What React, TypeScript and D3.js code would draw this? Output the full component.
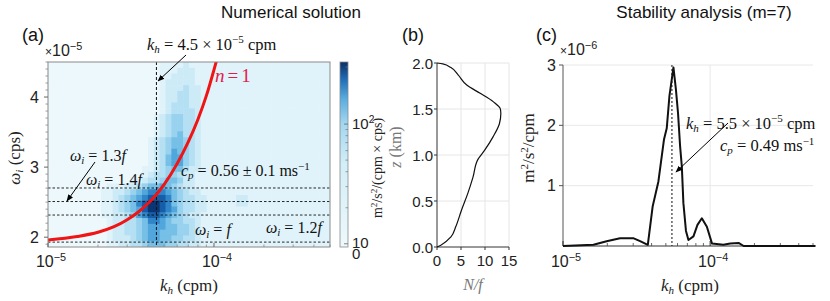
import React from 'react'
import * as d3 from 'd3'

const SANS = '"Liberation Sans", Arial, Helvetica, sans-serif'
const SERIF = '"Liberation Serif", "Times New Roman", serif'

// (a) spectrum levels, rows from top (omega = 4.5e-5) to bottom, 48 log-spaced columns 1e-5..5e-4 cpm
const heatRows = [
  '000000 000000 000000 011112 111111 111111 111111 111111',
  '000000 000000 000000 011122 211111 111111 111111 111111',
  '000000 000000 000000 011222 211111 111111 111111 111111',
  '000000 000000 000000 012222 211111 111111 111111 111111',
  '000000 000000 000000 012223 221111 111111 111111 111111',
  '000000 000000 000000 012233 221111 111111 111111 111111',
  '000000 000000 000000 012233 221111 111111 111111 111111',
  '000000 000000 000000 012333 221111 111111 111111 111111',
  '000000 000000 000000 012333 321111 111111 111111 111111',
  '000000 000000 000000 123443 321111 111111 111111 111111',
  '000000 000000 000000 123443 321111 111111 111111 111111',
  '000000 000000 000000 123443 321111 111111 111111 111111',
  '000000 000000 000000 123453 321111 111111 111111 111111',
  '000000 000000 000001 234554 321111 111111 111111 111111',
  '000000 000000 000001 234554 321111 111111 111111 111111',
  '000000 000000 000001 234654 321111 111111 111111 111111',
  '000000 000000 000001 235664 321111 111111 111111 111111',
  '000000 000000 000001 235664 321111 111111 111111 111111',
  '000000 000000 000011 234553 221111 111111 111111 111111',
  '000000 000000 000012 334432 211111 111111 111111 111111',
  '000000 000000 001123 345542 211111 111111 111111 111111',
  '000000 000011 122345 565432 211111 111111 111111 111111',
  '000000 000112 234567 776543 221111 111111 111111 111111',
  '000000 000112 345678 887543 322111 112211 111111 111111',
  '000000 000112 345789 987543 322111 112211 111111 111111',
  '000000 000112 345689 987643 322111 111111 111111 111111',
  '000000 000112 234678 876543 221111 111111 111111 111111',
  '000000 000012 233457 765443 321111 111111 111111 111111',
  '000000 000012 233456 665544 321111 111111 111111 111111',
  '000000 000012 233456 655544 321111 111111 111111 111111',
  '000000 000012 223456 655443 321111 111111 111111 111111',
  '000000 000011 223345 554433 221111 111111 111111 111111',
]
const heatColors = ['#edf8fc', '#e0f3fa', '#cdebf7', '#b5e0f3', '#98d2ee', '#76bfe7', '#51a6dc', '#2f85c8', '#175ea8', '#0b3673']

const fFreq = 1.93 // x1e-5 cps
const omegaMultiples = [1, 1.2, 1.3, 1.4]
const khNumerical = 4.5e-5

// n = 1 dispersion curve, kh in 1e-5 cpm, omega in 1e-5 cps
const n1Kh = [1.0, 1.5, 2.0, 2.5, 3.0, 3.5, 4.0, 4.5, 5.0, 6.0, 7.0, 8.0, 9.0, 10.3, 11.0]
const n1Omega = [1.96, 2.01, 2.07, 2.15, 2.25, 2.36, 2.48, 2.61, 2.75, 3.05, 3.36, 3.68, 4.02, 4.5, 4.75]

const aTicksY = [2, 3, 4]
const cbTicks = [10, 100]
const cbMinor = [20, 30, 40, 50, 60, 70, 80, 90, 200, 300]

// (b) stratification profile
const profileZ = [0, 0.02, 0.11, 0.22, 0.4, 0.58, 0.76, 0.95, 1.05, 1.2, 1.34, 1.45, 1.5, 1.58, 1.67, 1.76, 1.87, 1.95, 1.99, 2.0]
const profileNf = [0, 0.8, 2.9, 3.9, 5.1, 6.4, 7.5, 8.5, 9.9, 11.7, 13.0, 13.3, 13.2, 11.7, 9.0, 6.2, 4.4, 2.9, 1.2, 0]
const bTicksX = [0, 5, 10, 15]
const bTicksY = [0, 0.5, 1.0, 1.5, 2.0]

// (c) stability analysis spectrum, kh in 1e-5 cpm, value x1e-6
const stabKh = [1.0, 1.61, 1.98, 2.44, 3.0, 3.34, 3.77, 4.07, 4.45, 4.86, 5.07, 5.29, 5.63, 5.85, 6.05, 6.25, 6.42, 6.58, 6.85, 7.12, 7.7, 8.2, 8.78, 9.5, 10.3, 12.3, 13.7, 15.6, 16.9, 25, 52]
const stabSpec = [0, 0.02, 0.08, 0.13, 0.13, 0.08, 0.02, 0.66, 1.07, 1.77, 1.95, 2.49, 2.96, 2.6, 2.2, 1.65, 1.32, 0.71, 0.25, 0.1, 0.16, 0.35, 0.46, 0.32, 0.04, 0.02, 0.04, 0.05, 0, 0, 0]
const khStability = 5.5e-5
const cTicksY = [1, 2, 3]

const minorLog = [2, 3, 4, 5, 6, 7, 8, 9, 20, 30, 40, 50].map(d => d * 1e-5)

export default function App() {
  const xA = d3.scaleLog().domain([1e-5, 5e-4]).range([48, 330])
  const yA = d3.scaleLinear().domain([1.86, 4.5]).range([247, 62])
  const cb = d3.scaleLog().domain([9.4, 330]).range([247, 62])
  const xB = d3.scaleLinear().domain([0, 15]).range([437, 509])
  const yB = d3.scaleLinear().domain([0, 2]).range([247, 63])
  const xC = d3.scaleLog().domain([1e-5, 5e-4]).range([563, 813])
  const yC = d3.scaleLinear().domain([0, 3]).range([246, 65])

  const grid = heatRows.map(r => r.replace(/ /g, ''))
  const nCols = grid[0].length
  const colX = d3.scaleLinear().domain([0, nCols]).range([48, 330])
  const rowY = d3.scaleLinear().domain([0, grid.length]).range([62, 247])

  const n1Line = d3.line<number>()
    .x((_, i) => xA(n1Kh[i] * 1e-5))
    .y(d => yA(d))
    .curve(d3.curveMonotoneX)(n1Omega) || ''

  const profLine = d3.line<number>()
    .x((_, i) => xB(profileNf[i]))
    .y(d => yB(d))
    .curve(d3.curveMonotoneY)(profileZ) || ''

  const stabLine = d3.line<number>()
    .x((_, i) => xC(stabKh[i] * 1e-5))
    .y(d => yC(d))(stabSpec) || ''

  const minorY = d3.range(19, 46).map(d => d / 10).filter(d => !aTicksY.includes(d))

  const sup = (s: string, size: number) => (
    <>
      <tspan fontSize={size * 0.68} dy={-size * 0.4}>{s}</tspan>
      <tspan dy={size * 0.4}>{'\u200b'}</tspan>
    </>
  )

  return (
    <svg width={830} height={301} style={{ position: 'absolute', left: 0, top: 0, display: 'block' }}>
      <defs>
        <marker id="arr" viewBox="0 0 10 10" refX="9" refY="5" markerWidth="7" markerHeight="7" orient="auto">
          <path d="M0,1 L10,5 L0,9 z" fill="#000" />
        </marker>
        <clipPath id="clipA"><rect x={48} y={62} width={282} height={185} /></clipPath>
        <linearGradient id="cbGrad" x1="0" y1="1" x2="0" y2="0">
          <stop offset="0" stopColor="#eef9fc" />
          <stop offset="0.45" stopColor="#d2eef8" />
          <stop offset="0.67" stopColor="#a2d6ef" />
          <stop offset="0.8" stopColor="#5aade0" />
          <stop offset="0.9" stopColor="#2271bb" />
          <stop offset="1" stopColor="#0a2f66" />
        </linearGradient>
      </defs>

      {/* titles */}
      <text x={291} y={18} fontFamily={SANS} fontSize={17} textAnchor="middle" fill="#111">Numerical solution</text>
      <text x={704} y={18} fontFamily={SANS} fontSize={17} textAnchor="middle" fill="#111">Stability analysis (m=7)</text>
      <text x={22} y={41} fontFamily={SANS} fontSize={18} fill="#111">(a)</text>
      <text x={402} y={41} fontFamily={SANS} fontSize={18} fill="#111">(b)</text>
      <text x={536} y={41} fontFamily={SANS} fontSize={18} fill="#111">(c)</text>

      {/* ===== (a) heatmap ===== */}
      <g clipPath="url(#clipA)">
        {grid.map((row, r) => row.split('').map((ch, c) => (
          <rect key={`${r}-${c}`} x={colX(c)} y={rowY(r)} width={colX(1) - colX(0) + 0.6} height={rowY(1) - rowY(0) + 0.6}
            fill={heatColors[+ch]} />
        )))}
        {omegaMultiples.map(m => (
          <line key={m} x1={48} x2={330} y1={yA(m * fFreq)} y2={yA(m * fFreq)} stroke="#111" strokeWidth={0.9} strokeDasharray="2.5,2" />
        ))}
        <line x1={xA(khNumerical)} x2={xA(khNumerical)} y1={62} y2={247} stroke="#111" strokeWidth={1} strokeDasharray="3,2" />
        <path d={n1Line} fill="none" stroke="#f01414" strokeWidth={3} />
      </g>
      <rect x={48} y={62} width={282} height={185} fill="none" stroke="#8a8a8a" strokeWidth={1} />
      {aTicksY.map(t => (
        <g key={t}>
          <line x1={44} x2={48} y1={yA(t)} y2={yA(t)} stroke="#666" />
          <text x={39} y={yA(t) + 5.5} fontFamily={SANS} fontSize={16} textAnchor="end" fill="#222">{t}</text>
        </g>
      ))}
      {minorY.map(t => <line key={t} x1={45.5} x2={48} y1={yA(t)} y2={yA(t)} stroke="#888" strokeWidth={0.8} />)}
      {[1e-5, 1e-4].map(t => <line key={t} x1={xA(t)} x2={xA(t)} y1={247} y2={243} stroke="#666" />)}
      {minorLog.map(t => <line key={t} x1={xA(t)} x2={xA(t)} y1={247} y2={244.5} stroke="#888" strokeWidth={0.8} />)}
      <text x={xA(1e-5) + 3} y={267} fontFamily={SANS} fontSize={16} textAnchor="middle" fill="#222">10{sup('\u22125', 16)}</text>
      <text x={xA(1e-4) + 3} y={267} fontFamily={SANS} fontSize={16} textAnchor="middle" fill="#222">10{sup('\u22124', 16)}</text>
      <text x={45} y={56} fontFamily={SANS} fontSize={16} fill="#222"><tspan fontSize={12}>×</tspan>10{sup('\u22125', 16)}</text>

      <text x={189} y={291} fontFamily={SERIF} fontSize={17} textAnchor="middle" fill="#222">
        <tspan fontStyle="italic">k</tspan><tspan fontSize={11} dy={3} fontStyle="italic">h</tspan><tspan dy={-3}> (cpm)</tspan>
      </text>
      <text transform="translate(20,158) rotate(-90)" fontFamily={SERIF} fontSize={17} textAnchor="middle" fill="#222">
        <tspan fontStyle="italic">ω</tspan><tspan fontSize={11} dy={3} fontStyle="italic">i</tspan><tspan dy={-3}> (cps)</tspan>
      </text>

      {/* (a) annotations */}
      <text x={147} y={50} fontFamily={SERIF} fontSize={16.5} fill="#111">
        <tspan fontStyle="italic">k</tspan><tspan fontSize={11} dy={3} fontStyle="italic">h</tspan>
        <tspan dy={-3}> = 4.5 × 10</tspan><tspan fontSize={11} dy={-7}>−5</tspan><tspan dy={7}> cpm</tspan>
      </text>
      <line x1={186} y1={55} x2={158} y2={81} stroke="#000" strokeWidth={1} markerEnd="url(#arr)" />
      <text x={215} y={82} fontFamily={SERIF} fontSize={19} fill="#e31b4b">
        <tspan fontStyle="italic">n</tspan><tspan dx={3}>=</tspan><tspan dx={3}>1</tspan>
      </text>
      <text x={70} y={161} fontFamily={SERIF} fontSize={16} fill="#111">
        <tspan fontStyle="italic">ω</tspan><tspan fontSize={11} dy={3} fontStyle="italic">i</tspan><tspan dy={-3}> = 1.3</tspan><tspan fontStyle="italic">f</tspan>
      </text>
      <text x={86} y={185} fontFamily={SERIF} fontSize={16} fill="#111">
        <tspan fontStyle="italic">ω</tspan><tspan fontSize={11} dy={3} fontStyle="italic">i</tspan><tspan dy={-3}> = 1.4</tspan><tspan fontStyle="italic">f</tspan>
      </text>
      <line x1={95} y1={162} x2={67} y2={201} stroke="#000" strokeWidth={1} markerEnd="url(#arr)" />
      <text x={181} y={176} fontFamily={SERIF} fontSize={16} fill="#111">
        <tspan fontStyle="italic">c</tspan><tspan fontSize={11} dy={3} fontStyle="italic">p</tspan>
        <tspan dy={-3}> = 0.56 ± 0.1 ms</tspan><tspan fontSize={11} dy={-6}>−1</tspan>
      </text>
      <text x={195} y={235} fontFamily={SERIF} fontSize={16} fill="#111">
        <tspan fontStyle="italic">ω</tspan><tspan fontSize={11} dy={3} fontStyle="italic">i</tspan><tspan dy={-3}> = </tspan><tspan fontStyle="italic">f</tspan>
      </text>
      <text x={266} y={233} fontFamily={SERIF} fontSize={16} fill="#111">
        <tspan fontStyle="italic">ω</tspan><tspan fontSize={11} dy={3} fontStyle="italic">i</tspan><tspan dy={-3}> = 1.2</tspan><tspan fontStyle="italic">f</tspan>
      </text>

      {/* (a) colorbar */}
      <rect x={340} y={62} width={8} height={185} fill="url(#cbGrad)" stroke="#8a8a8a" strokeWidth={0.8} />
      {cbTicks.map(t => <line key={t} x1={344} x2={348} y1={cb(t)} y2={cb(t)} stroke="#666" strokeWidth={0.8} />)}
      {cbMinor.map(t => <line key={t} x1={345.5} x2={348} y1={cb(t)} y2={cb(t)} stroke="#777" strokeWidth={0.7} />)}
      <text x={352} y={cb(100) + 5} fontFamily={SANS} fontSize={15} fill="#222">10{sup('2', 15)}</text>
      <text x={352} y={cb(10) + 4} fontFamily={SANS} fontSize={15} fill="#222">10</text>
      <text x={352} y={259} fontFamily={SANS} fontSize={15} fill="#222">0</text>
      <text transform="translate(382,168) rotate(-90)" fontFamily={SERIF} fontSize={14} textAnchor="middle" fill="#222">
        m<tspan fontSize={9} dy={-5}>2</tspan><tspan dy={5}>/s</tspan><tspan fontSize={9} dy={-5}>2</tspan><tspan dy={5}>/(cpm × cps)</tspan>
      </text>

      {/* ===== (b) N/f profile ===== */}
      {bTicksX.filter(t => t > 0).map(t => <line key={t} x1={xB(t)} x2={xB(t)} y1={63} y2={247} stroke="#e6e6e6" />)}
      {bTicksY.filter(t => t > 0).map(t => <line key={t} x1={437} x2={509} y1={yB(t)} y2={yB(t)} stroke="#e6e6e6" />)}
      <line x1={437} x2={437} y1={63} y2={247} stroke="#333" />
      <line x1={437} x2={509} y1={247} y2={247} stroke="#333" />
      {bTicksY.map(t => (
        <g key={t}>
          <line x1={434} x2={437} y1={yB(t)} y2={yB(t)} stroke="#333" />
          <text x={433} y={yB(t) + 5.5} fontFamily={SANS} fontSize={15} textAnchor="end" fill="#222">{t.toFixed(1)}</text>
        </g>
      ))}
      {bTicksX.map(t => (
        <g key={t}>
          <line x1={xB(t)} x2={xB(t)} y1={247} y2={250} stroke="#333" />
          <text x={xB(t)} y={266} fontFamily={SANS} fontSize={15} textAnchor="middle" fill="#222">{t}</text>
        </g>
      ))}
      <path d={profLine} fill="none" stroke="#111" strokeWidth={1.2} />
      <text x={473} y={290} fontFamily={SERIF} fontSize={16} textAnchor="middle" fill="#777" fontStyle="italic">N/f</text>
      <text transform="translate(401,147) rotate(-90)" fontFamily={SERIF} fontSize={16} textAnchor="middle" fill="#777">
        <tspan fontStyle="italic">z</tspan> (km)
      </text>

      {/* ===== (c) stability spectrum ===== */}
      {cTicksY.map(t => <line key={t} x1={563} x2={813} y1={yC(t)} y2={yC(t)} stroke="#e8e8e8" />)}
      <line x1={xC(1e-4)} x2={xC(1e-4)} y1={65} y2={246} stroke="#e8e8e8" />
      <line x1={563} x2={563} y1={65} y2={246} stroke="#555" />
      <line x1={563} x2={813} y1={246} y2={246} stroke="#333" strokeWidth={1.2} />
      {cTicksY.map(t => (
        <g key={t}>
          <line x1={559} x2={563} y1={yC(t)} y2={yC(t)} stroke="#555" />
          <text x={556} y={yC(t) + 5.5} fontFamily={SANS} fontSize={16} textAnchor="end" fill="#222">{t}</text>
        </g>
      ))}
      {[1e-5, 1e-4].map(t => <line key={t} x1={xC(t)} x2={xC(t)} y1={246} y2={241} stroke="#333" />)}
      {minorLog.map(t => <line key={t} x1={xC(t)} x2={xC(t)} y1={246} y2={243} stroke="#444" strokeWidth={0.8} />)}
      <text x={xC(1e-5) + 3} y={267} fontFamily={SANS} fontSize={16} textAnchor="middle" fill="#222">10{sup('\u22125', 16)}</text>
      <text x={xC(1e-4) + 3} y={267} fontFamily={SANS} fontSize={16} textAnchor="middle" fill="#222">10{sup('\u22124', 16)}</text>
      <text x={560} y={55} fontFamily={SANS} fontSize={16} fill="#222"><tspan fontSize={12}>×</tspan>10{sup('\u22126', 16)}</text>
      <line x1={xC(khStability)} x2={xC(khStability)} y1={65} y2={246} stroke="#111" strokeWidth={1} strokeDasharray="2,2" />
      <path d={stabLine} fill="none" stroke="#111" strokeWidth={2} strokeLinejoin="round" />
      <text x={690} y={291} fontFamily={SERIF} fontSize={17} textAnchor="middle" fill="#222">
        <tspan fontStyle="italic">k</tspan><tspan fontSize={11} dy={3} fontStyle="italic">h</tspan><tspan dy={-3}> (cpm)</tspan>
      </text>
      <text transform="translate(534,148) rotate(-90)" fontFamily={SERIF} fontSize={17} textAnchor="middle" fill="#222">
        m<tspan fontSize={11} dy={-6}>2</tspan><tspan dy={6}>/s</tspan><tspan fontSize={11} dy={-6}>2</tspan><tspan dy={6}>/cpm</tspan>
      </text>
      <text x={686} y={129} fontFamily={SERIF} fontSize={16.5} fill="#111">
        <tspan fontStyle="italic">k</tspan><tspan fontSize={11} dy={3} fontStyle="italic">h</tspan>
        <tspan dy={-3}> = 5.5 × 10</tspan><tspan fontSize={11} dy={-7}>−5</tspan><tspan dy={7}> cpm</tspan>
      </text>
      <text x={720} y={151} fontFamily={SERIF} fontSize={16.5} fill="#111">
        <tspan fontStyle="italic">c</tspan><tspan fontSize={11} dy={3} fontStyle="italic">p</tspan>
        <tspan dy={-3}> = 0.49 ms</tspan><tspan fontSize={11} dy={-6}>−1</tspan>
      </text>
      <line x1={728} y1={123} x2={676} y2={172} stroke="#000" strokeWidth={1} markerEnd="url(#arr)" />
    </svg>
  )
}
